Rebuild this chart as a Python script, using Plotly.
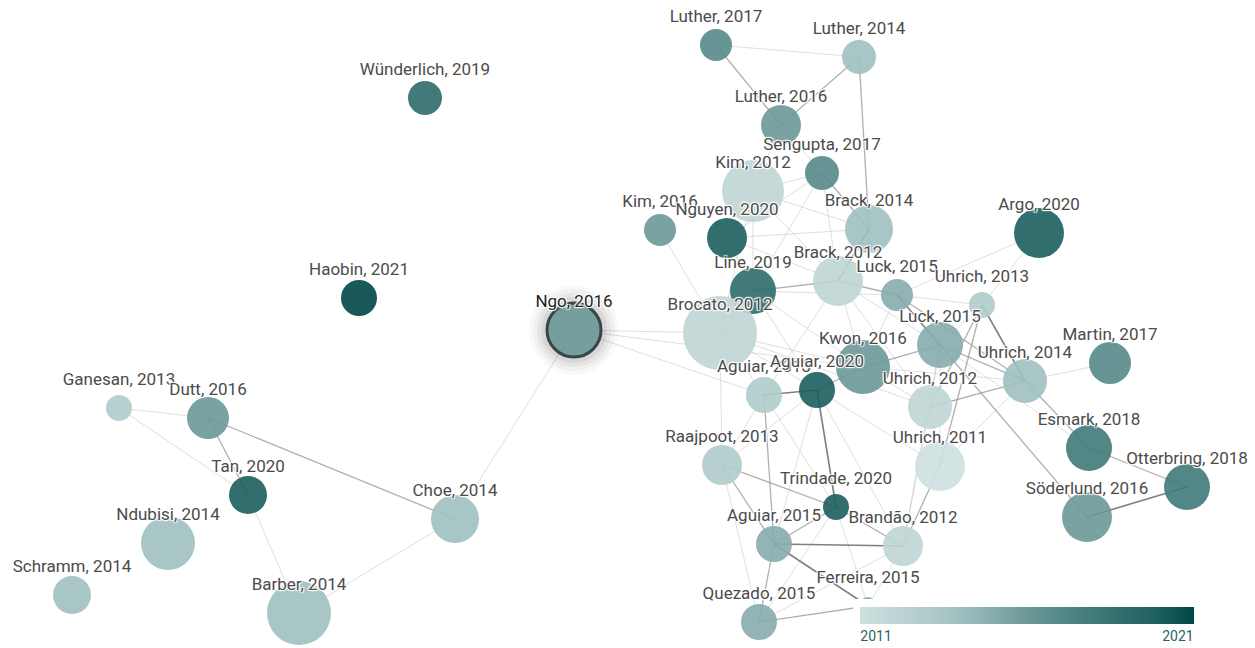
import plotly.graph_objects as go

# ---------------- data ----------------
node_ids = ["Luther2017", "Luther2014", "Luther2016", "Sengupta2017", "Kim2012", "Kim2016",
            "Nguyen2020", "Brack2014", "Argo2020", "Brack2012", "Line2019", "Luck2015a",
            "Uhrich2013", "Ngo2016", "Brocato2012", "Luck2015b", "Kwon2016", "Martin2017",
            "Uhrich2014", "Aguiar2013", "Aguiar2020", "Uhrich2012", "Ganesan2013", "Dutt2016",
            "Esmark2018", "Uhrich2011", "Raajpoot2013", "Tan2020", "Otterbring2018", "Trindade2020",
            "Choe2014", "Soderlund2016", "Ndubisi2014", "Aguiar2015", "Brandao2012", "Schramm2014",
            "Barber2014", "Quezado2015", "Ferreira2015", "Wunderlich2019", "Haobin2021"]
labels = ["Luther, 2017", "Luther, 2014", "Luther, 2016", "Sengupta, 2017", "Kim, 2012", "Kim, 2016",
          "Nguyen, 2020", "Brack, 2014", "Argo, 2020", "Brack, 2012", "Line, 2019", "Luck, 2015",
          "Uhrich, 2013", "Ngo, 2016", "Brocato, 2012", "Luck, 2015", "Kwon, 2016", "Martin, 2017",
          "Uhrich, 2014", "Aguiar, 2013", "Aguiar, 2020", "Uhrich, 2012", "Ganesan, 2013", "Dutt, 2016",
          "Esmark, 2018", "Uhrich, 2011", "Raajpoot, 2013", "Tan, 2020", "Otterbring, 2018", "Trindade, 2020",
          "Choe, 2014", "Söderlund, 2016", "Ndubisi, 2014", "Aguiar, 2015", "Brandão, 2012", "Schramm, 2014",
          "Barber, 2014", "Quezado, 2015", "Ferreira, 2015", "Wünderlich, 2019", "Haobin, 2021"]
years = [2017, 2014, 2016, 2017, 2012, 2016,
         2020, 2014, 2020, 2012, 2019, 2015,
         2013, 2016, 2012, 2015, 2016, 2017,
         2014, 2013, 2020, 2012, 2013, 2016,
         2018, 2011, 2013, 2020, 2018, 2020,
         2014, 2016, 2014, 2015, 2012, 2014,
         2014, 2015, 2015, 2019, 2021]
# layout coordinates of the graph (canvas units)
node_x = [716, 859, 781, 822, 753, 660,
          727, 869, 1039, 838, 753, 897,
          982, 574, 720, 940, 863, 1110,
          1025, 764, 817, 930, 119, 208,
          1089, 940, 722, 248, 1187, 836,
          455, 1087, 168, 774, 903, 72,
          299, 759, 868, 425, 359]
node_y = [45, 57, 125, 173, 191, 230,
          238, 229, 233, 281, 291, 295,
          305, 330, 333, 345, 367, 363,
          381, 395, 390, 407, 408, 418,
          448, 466, 465, 495, 487, 507,
          519, 517, 543, 544, 546, 595,
          613, 622, 606, 98, 298]
# citation-based node size (diameter)
node_size = [32, 34, 40, 34, 62, 32,
             40, 48, 50, 50, 46, 32,
             26, 54, 74, 46, 54, 42,
             44, 36, 36, 44, 26, 42,
             46, 50, 40, 38, 46, 26,
             48, 50, 54, 36, 40, 38,
             64, 36, 18, 34, 36]

edges_strong = [("Otterbring2018", "Soderlund2016"), ("Aguiar2013", "Aguiar2020"), ("Aguiar2020", "Trindade2020"),
                ("Aguiar2015", "Ferreira2015"), ("Aguiar2015", "Brandao2012"), ("Uhrich2013", "Uhrich2014"),
                ("Luck2015a", "Luck2015b"), ("Brack2014", "Brack2012")]
edges_medium = [("Luther2017", "Luther2016"), ("Luther2014", "Luther2016"), ("Luther2014", "Brack2014"),
                ("Dutt2016", "Tan2020"), ("Dutt2016", "Choe2014"), ("Raajpoot2013", "Trindade2020"),
                ("Aguiar2015", "Quezado2015"), ("Brandao2012", "Uhrich2011"), ("Raajpoot2013", "Aguiar2015"),
                ("Aguiar2013", "Aguiar2015"), ("Luck2015b", "Soderlund2016"), ("Luck2015b", "Uhrich2014"),
                ("Uhrich2014", "Esmark2018"), ("Esmark2018", "Otterbring2018"), ("Luck2015b", "Kwon2016"),
                ("Line2019", "Brack2012"), ("Sengupta2017", "Brack2014"), ("Trindade2020", "Aguiar2015"),
                ("Trindade2020", "Brandao2012"), ("Quezado2015", "Ferreira2015"), ("Uhrich2013", "Uhrich2012"),
                ("Uhrich2013", "Uhrich2011"), ("Kwon2016", "Aguiar2020"), ("Luck2015a", "Uhrich2014"),
                ("Luck2015a", "Brack2012"), ("Uhrich2014", "Uhrich2012")]
edges_faint = [("Luther2017", "Luther2014"), ("Luther2016", "Sengupta2017"), ("Luther2016", "Kim2012"),
               ("Sengupta2017", "Kim2012"), ("Sengupta2017", "Line2019"), ("Sengupta2017", "Brack2012"),
               ("Sengupta2017", "Nguyen2020"), ("Kim2012", "Brack2014"), ("Kim2012", "Line2019"),
               ("Kim2012", "Brocato2012"), ("Kim2012", "Brack2012"), ("Kim2016", "Brocato2012"),
               ("Nguyen2020", "Brack2014"), ("Nguyen2020", "Line2019"), ("Nguyen2020", "Brack2012"),
               ("Argo2020", "Luck2015a"), ("Argo2020", "Uhrich2013"), ("Line2019", "Brocato2012"),
               ("Line2019", "Kwon2016"), ("Line2019", "Luck2015a"), ("Line2019", "Aguiar2020"),
               ("Brack2012", "Kwon2016"), ("Brack2012", "Luck2015b"), ("Brack2012", "Uhrich2012"),
               ("Brack2012", "Aguiar2013"), ("Brocato2012", "Aguiar2013"), ("Brocato2012", "Kwon2016"),
               ("Brocato2012", "Raajpoot2013"), ("Brocato2012", "Uhrich2012"), ("Brocato2012", "Aguiar2020"),
               ("Ngo2016", "Brocato2012"), ("Ngo2016", "Kwon2016"), ("Ngo2016", "Choe2014"),
               ("Ngo2016", "Aguiar2013"), ("Luck2015a", "Uhrich2013"), ("Luck2015a", "Kwon2016"),
               ("Luck2015b", "Uhrich2013"), ("Luck2015b", "Uhrich2012"), ("Luck2015b", "Uhrich2011"),
               ("Luck2015b", "Esmark2018"), ("Luck2015b", "Brandao2012"), ("Uhrich2014", "Martin2017"),
               ("Uhrich2014", "Uhrich2011"), ("Kwon2016", "Uhrich2012"), ("Kwon2016", "Uhrich2014"),
               ("Aguiar2013", "Raajpoot2013"), ("Aguiar2013", "Trindade2020"), ("Aguiar2020", "Aguiar2015"),
               ("Aguiar2020", "Raajpoot2013"), ("Aguiar2020", "Uhrich2011"), ("Aguiar2020", "Brandao2012"),
               ("Trindade2020", "Ferreira2015"), ("Trindade2020", "Quezado2015"), ("Brandao2012", "Ferreira2015"),
               ("Brandao2012", "Quezado2015"), ("Uhrich2012", "Uhrich2011"), ("Uhrich2012", "Brandao2012"),
               ("Ganesan2013", "Dutt2016"), ("Ganesan2013", "Tan2020"), ("Tan2020", "Barber2014"),
               ("Barber2014", "Choe2014"), ("Raajpoot2013", "Quezado2015")]

highlight = "Ngo2016"
year_min, year_max = 2011, 2021
colorbar_ticks = ["2011", "2021"]

# ---------------- figure ----------------
idx = {k: i for i, k in enumerate(node_ids)}


def edge_xy(edges):
    ex, ey = [], []
    for a, b in edges:
        ex += [node_x[idx[a]], node_x[idx[b]], None]
        ey += [node_y[idx[a]], node_y[idx[b]], None]
    return ex, ey


colorscale = [[0.0, "rgb(206,224,224)"], [0.3, "rgb(160,192,192)"], [0.5, "rgb(108,152,152)"],
              [0.7, "rgb(64,122,122)"], [0.9, "rgb(28,94,94)"], [1.0, "rgb(0,70,70)"]]

fig = go.Figure()

for edges, col, w in [(edges_faint, "rgba(185,185,185,0.45)", 1.0),
                      (edges_medium, "rgba(150,150,150,0.75)", 1.3),
                      (edges_strong, "rgba(105,105,105,0.85)", 1.6)]:
    ex, ey = edge_xy(edges)
    fig.add_trace(go.Scatter(x=ex, y=ey, mode="lines", line=dict(color=col, width=w),
                             hoverinfo="skip", showlegend=False))

# glow around the selected paper
hi = idx[highlight]
for extra, a in [(36, 0.025), (28, 0.035), (20, 0.045), (12, 0.06)]:
    fig.add_trace(go.Scatter(x=[node_x[hi]], y=[node_y[hi]], mode="markers",
                             marker=dict(size=node_size[hi] + extra, color=f"rgba(0,0,0,{a})",
                                         line=dict(width=0)),
                             hoverinfo="skip", showlegend=False))

bar_len_px = 334 + 14
line_w = [3 if k == highlight else 0 for k in node_ids]
fig.add_trace(go.Scatter(
    x=node_x, y=node_y, mode="markers", text=labels, hoverinfo="text",
    marker=dict(size=node_size, color=years, cmin=year_min, cmax=year_max,
                colorscale=colorscale, opacity=0.9,
                line=dict(width=line_w, color="rgb(40,55,55)"),
                showscale=True,
                colorbar=dict(orientation="h", x=1027 / 1255, xanchor="center", y=0.0, yanchor="bottom",
                              len=bar_len_px / 1255, lenmode="fraction", thickness=17,
                              bgcolor="white", outlinewidth=0, xpad=7, ypad=8,
                              tickmode="array", tickvals=[year_min + 0.48, year_max - 0.48],
                              ticktext=colorbar_ticks, ticks="",
                              tickfont=dict(family="Roboto", size=14, color="rgb(40,100,100)"))),
    showlegend=False))

label_y = [y - 27 for y in node_y]
label_colors = ["rgb(30,30,30)" if k == highlight else "rgb(75,75,75)" for k in node_ids]
fig.add_trace(go.Scatter(
    x=node_x, y=label_y, mode="text", text=labels, textposition="middle center",
    textfont=dict(family="Roboto", size=17, color=label_colors,
                  shadow="1px 1px 1px #fff, -1px -1px 1px #fff, 1px -1px 1px #fff, -1px 1px 1px #fff"),
    hoverinfo="skip", showlegend=False))

fig.update_layout(
    width=1255, height=648, margin=dict(l=0, r=0, t=0, b=0),
    paper_bgcolor="white", plot_bgcolor="white",
    xaxis=dict(range=[0, 1255], visible=False, fixedrange=True),
    yaxis=dict(range=[648, 0], visible=False, fixedrange=True),
    font=dict(family="Roboto"),
)

fig.write_html("out.html", config={"displayModeBar": False},
               post_script="document.body.style.margin='0';")
